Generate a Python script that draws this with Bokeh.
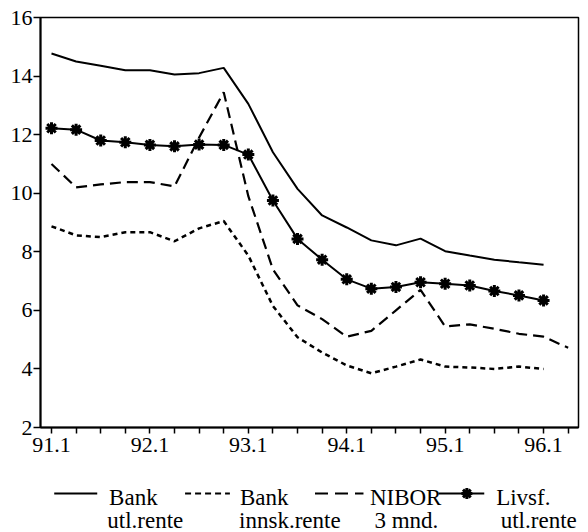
from bokeh.plotting import figure
from bokeh.models import Range1d, FixedTicker
from bokeh.layouts import column
from bokeh.embed import file_html
from bokeh.resources import INLINE
from bokeh.core.properties import value

quarters = ["91.1", "91.2", "91.3", "91.4", "92.1", "92.2", "92.3", "92.4",
            "93.1", "93.2", "93.3", "93.4", "94.1", "94.2", "94.3", "94.4",
            "95.1", "95.2", "95.3", "95.4", "96.1", "96.2"]
bank_utl = [14.77, 14.5, 14.35, 14.2, 14.2, 14.05, 14.1, 14.28, 13.05, 11.4, 10.15,
            9.24, 8.83, 8.39, 8.22, 8.45, 8.02, 7.87, 7.73, 7.64, 7.56]
bank_innsk = [8.87, 8.56, 8.5, 8.67, 8.67, 8.36, 8.8, 9.05, 7.87, 6.15, 5.08,
              4.56, 4.12, 3.85, 4.08, 4.32, 4.08, 4.05, 4.0, 4.08, 4.0]
nibor = [11.0, 10.2, 10.3, 10.38, 10.38, 10.23, 11.9, 13.45, 9.9, 7.4, 6.17,
         5.7, 5.1, 5.3, 6.0, 6.7, 5.45, 5.52, 5.37, 5.2, 5.1, 4.72]
livsf = [12.22, 12.17, 11.8, 11.74, 11.65, 11.6, 11.66, 11.65, 11.32, 9.75, 8.44,
         7.73, 7.06, 6.74, 6.8, 6.96, 6.91, 6.85, 6.66, 6.51, 6.34]
y_ticks = [2, 4, 6, 8, 10, 12, 14, 16]
legend_lines1 = ["Bank", "Bank", "NIBOR", "Livsf."]
legend_lines2 = ["utl.rente", "innsk.rente", "3 mnd.", "utl.rente"]

FONT = "Liberation Serif"

x_all = list(range(len(quarters)))
x21 = x_all[:len(bank_utl)]

p = figure(width=588, height=467,
           x_range=Range1d(-0.447, 21.42), y_range=Range1d(2, 16),
           output_backend="svg", toolbar_location=None,
           min_border_left=40, min_border_right=10, min_border_top=17, min_border_bottom=40,
           background_fill_color="white", border_fill_color="white")
p.xgrid.visible = False
p.ygrid.visible = False
p.outline_line_color = "black"
p.outline_line_width = 1.5

p.xaxis.ticker = FixedTicker(ticks=x_all)
p.xaxis.major_label_overrides = {i: (q if q.endswith(".1") else "") for i, q in enumerate(quarters)}
p.yaxis.ticker = FixedTicker(ticks=y_ticks)
for ax in [p.xaxis[0], p.yaxis[0]]:
    ax.axis_line_width = 2
    ax.axis_line_color = "black"
    ax.major_tick_line_width = 1.5
    ax.major_tick_line_color = "black"
    ax.minor_tick_line_color = None
    ax.major_tick_in = 0
    ax.major_label_text_font = FONT
    ax.major_label_text_font_size = "22px"
    ax.major_label_text_font_style = "normal"
    ax.major_label_text_color = "black"
p.xaxis[0].major_tick_out = 6
p.xaxis[0].major_label_standoff = 4
p.yaxis[0].major_tick_out = 7
p.yaxis[0].major_label_standoff = 1

p.line(x21, bank_utl, line_color="black", line_width=2)
p.line(x21, bank_innsk, line_color="black", line_width=2.5, line_dash="5 4")
p.line(x_all, nibor, line_color="black", line_width=2.2, line_dash="11 6")
p.line(x21, livsf, line_color="black", line_width=2)
p.scatter(x21, livsf, marker="asterisk", size=12, line_color="black", line_width=3)

LH = 65
lg = figure(width=588, height=LH, x_range=Range1d(0, 588), y_range=Range1d(LH, 0),
            output_backend="svg", toolbar_location=None,
            x_axis_location=None, y_axis_location=None, min_border=0,
            background_fill_color="white", border_fill_color="white")
lg.xgrid.visible = False
lg.ygrid.visible = False
lg.outline_line_color = None

sy = 26
lg.segment(x0=[15], y0=[sy], x1=[62], y1=[sy], line_color="black", line_width=2)
lg.segment(x0=[158], y0=[sy], x1=[207], y1=[sy], line_color="black", line_width=2, line_dash="6 4")
lg.segment(x0=[300], y0=[sy], x1=[353], y1=[sy], line_color="black", line_width=2.2, line_dash="13 7")
lg.segment(x0=[435], y0=[sy], x1=[485], y1=[sy], line_color="black", line_width=2)
lg.scatter(x=[466], y=[sy], marker="asterisk", size=11, line_color="black", line_width=3)

lg.text(x=[75, 218, 360, 498], y=[30] * 4, text=legend_lines1,
        text_font=value(FONT), text_font_size="23px", text_baseline="middle",
        text_color="black")
lg.text(x=[73, 217, 365, 503], y=[53] * 4, text=legend_lines2,
        text_font=value(FONT), text_font_size="23px", text_baseline="middle",
        text_color="black")

layout = column(p, lg, spacing=0)
open("out.html", "w").write(file_html(layout, INLINE))
